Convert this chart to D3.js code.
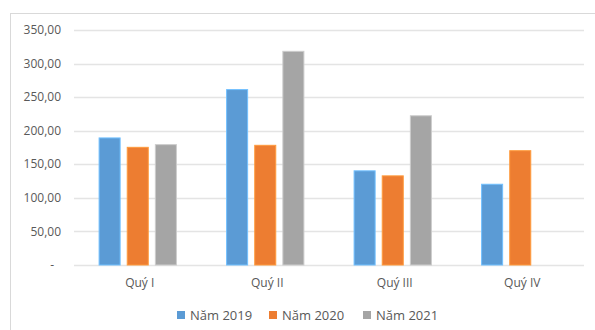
<!DOCTYPE html>
<html>
<head>
<meta charset="utf-8">
<script src="https://cdn.jsdelivr.net/npm/d3@7"></script>
<style>
  body { margin: 0; background: #fff; }
  svg { display: block; font-family: "Open Sans", sans-serif; }
</style>
</head>
<body>
<div id="chart"></div>
<script>
const categories = ["Quý I", "Quý II", "Quý III", "Quý IV"];
const series = ["Năm 2019", "Năm 2020", "Năm 2021"];
const colors = ["#5B9BD5", "#ED7D31", "#A5A5A5"];
const values2019 = [190, 262, 141, 121];
const values2020 = [176, 179, 133.5, 171];
const values2021 = [180, 319, 223, null];
const yTicks = [0, 50, 100, 150, 200, 250, 300, 350];

const width = 595, height = 330;
const margin = { top: 30, right: 11, bottom: 65, left: 74 };

const svg = d3.select("#chart").append("svg")
  .attr("width", width).attr("height", height);

// outer chart border
svg.append("rect")
  .attr("x", 10.5).attr("y", 13.5)
  .attr("width", 600).attr("height", 340)
  .attr("fill", "none").attr("stroke", "#d9d9d9");

const x0 = d3.scaleBand()
  .domain(categories)
  .range([margin.left, width - margin.right]);

const x1 = d3.scaleBand()
  .domain(series)
  .range([-39.15, 39.15])
  .paddingInner(0.217);

const y = d3.scaleLinear()
  .domain([0, 350])
  .range([height - margin.bottom, margin.top]);

const vn = d3.formatLocale({ decimal: ",", thousands: ".", grouping: [3], currency: ["", ""] });
const fmt = vn.format(",.2f");

// gridlines
svg.append("g")
  .selectAll("line")
  .data(yTicks)
  .join("line")
  .attr("x1", margin.left).attr("x2", width - margin.right)
  .attr("y1", d => Math.round(y(d)) + 0.5).attr("y2", d => Math.round(y(d)) + 0.5)
  .attr("stroke", "#e4e4e4").attr("stroke-width", 1.3);

// y labels
svg.append("g")
  .selectAll("text")
  .data(yTicks)
  .join("text")
  .attr("x", d => d === 0 ? 54 : 61)
  .attr("y", d => y(d))
  .attr("dy", "0.35em")
  .attr("text-anchor", "end")
  .attr("fill", "#595959")
  .style("font-size", "12px")
  .text(d => d === 0 ? "-" : fmt(d));

// bars
const data = categories.map((c, i) => ({
  cat: c,
  vals: [values2019[i], values2020[i], values2021[i]]
}));

const groups = svg.append("g")
  .selectAll("g")
  .data(data)
  .join("g")
  .attr("transform", d => `translate(${x0(d.cat) + x0.bandwidth() / 2},0)`);

groups.selectAll("rect")
  .data(d => d.vals.map((v, j) => ({ s: series[j], v, j })).filter(e => e.v != null))
  .join("rect")
  .attr("x", e => x1(e.s) + 0.5)
  .attr("width", x1.bandwidth() - 1)
  .attr("y", e => y(e.v) + 0.5)
  .attr("height", e => y(0) - y(e.v) - 0.5)
  .attr("fill", e => colors[e.j])
  .attr("stroke", e => d3.color(colors[e.j]).brighter(0.6))
  .attr("stroke-width", 1);

// category labels
svg.append("g")
  .selectAll("text")
  .data(categories)
  .join("text")
  .attr("x", d => x0(d) + x0.bandwidth() / 2 + 2)
  .attr("y", 283)
  .attr("dy", "0.35em")
  .attr("text-anchor", "middle")
  .attr("fill", "#595959")
  .style("font-size", "12px")
  .text(d => d);

// legend
const legendX = [177, 269, 363];
const legend = svg.append("g")
  .selectAll("g")
  .data(series)
  .join("g")
  .attr("transform", (d, i) => `translate(${legendX[i]},315)`);

legend.append("rect")
  .attr("x", 0).attr("y", -4)
  .attr("width", 8).attr("height", 8)
  .attr("fill", (d, i) => colors[i]);

legend.append("text")
  .attr("x", 13).attr("y", 0)
  .attr("dy", "0.35em")
  .attr("fill", "#595959")
  .style("font-size", "13px")
  .text(d => d);
</script>
</body>
</html>
